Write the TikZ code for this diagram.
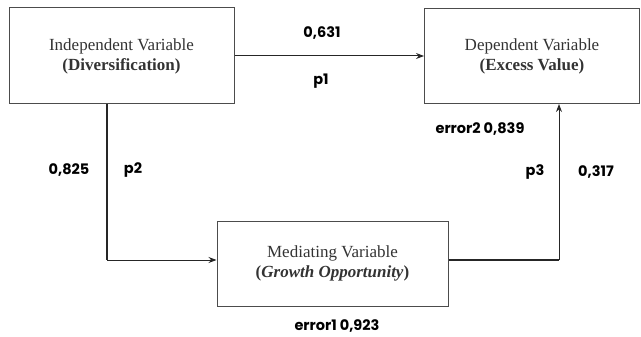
\documentclass[tikz,border=0pt]{standalone}
\usepackage{fontspec}
\setmainfont{Liberation Serif}
\newfontfamily\labelfont{Poppins}
\usetikzlibrary{arrows.meta}
\begin{document}
\begin{tikzpicture}[x=1pt,y=-1pt]
      \useasboundingbox (0,0) rectangle (641,337);

      \begin{scope}[every node/.style={rectangle,draw=black!70,line width=1pt,
          align=center,text=black!80,font=\fontsize{17}{20}\selectfont}]
        \node[minimum width=225pt,minimum height=96pt] (indep) at (121.5,56)
          {Independent Variable\\\textbf{(Diversification)}};
        \node[minimum width=215pt,minimum height=95pt] (dep) at (532,56)
          {Dependent Variable\\\textbf{(Excess Value)}};
        \node[minimum width=231pt,minimum height=85pt] (med) at (332.5,263.5)
          {Mediating Variable\\\textbf{(\textit{Growth Opportunity})}};
      \end{scope}

      \coordinate (c1) at (107,260);
      \coordinate (c2) at (559,260);

      \begin{scope}[every node/.style={font=\labelfont\bfseries\fontsize{14.5}{17}\selectfont}]
        \node (w1) at (322,33)  {0,631};
        \node (p1) at (321,81)  {p1};
        \node (w2) at (69,170)  {0,825};
        \node (p2) at (133,170) {p2};
        \node (e2) at (480,129) {error2 0,839};
        \node (p3) at (535,172) {p3};
        \node (w3) at (596,172) {0,317};
        \node (e1) at (337,326) {error1 0,923};
      \end{scope}

      \begin{scope}[line width=1pt,black!85,>={Stealth[length=8pt,width=6pt]}]
        \draw[->] (indep.east) -- (dep.west);
        \draw[line width=1.4pt] (c1 |- indep.south) -- (c1);
        \draw[->] (c1) -- (med.west |- c1);
        \draw[line width=1.3pt] (med.east |- c2) -- (c2);
        \draw[->] (c2) -- (c2 |- dep.south);
      \end{scope}

    \end{tikzpicture}
\end{document}
